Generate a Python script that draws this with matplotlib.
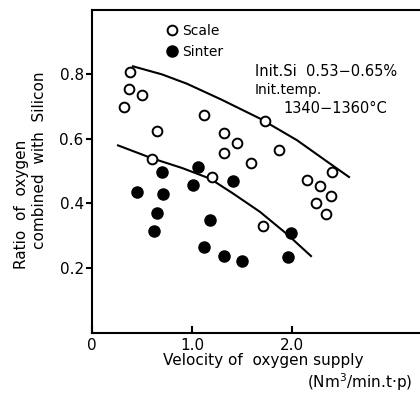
import matplotlib
matplotlib.use('Agg')
import matplotlib.pyplot as plt
from matplotlib.lines import Line2D

# Scale (open circles)
scale_x = [0.38, 0.37, 0.50, 0.32, 1.12, 0.65, 1.32, 1.45, 1.32, 1.59, 0.60, 1.20,
           1.73, 1.87, 2.40, 2.15, 2.28, 2.39, 2.24, 2.34, 1.71]
scale_y = [0.807, 0.755, 0.735, 0.700, 0.675, 0.624, 0.619, 0.588, 0.556, 0.524, 0.539, 0.481,
           0.654, 0.565, 0.498, 0.474, 0.454, 0.424, 0.400, 0.366, 0.331]

# Sinter (filled circles)
sinter_x = [0.45, 0.70, 0.71, 0.65, 0.62, 1.01, 1.06, 1.18, 1.12, 1.32, 1.41, 1.50, 1.96, 1.99]
sinter_y = [0.436, 0.498, 0.430, 0.369, 0.316, 0.458, 0.513, 0.349, 0.265, 0.237, 0.470, 0.223, 0.233, 0.310]

# hand-drawn trend curves
upper_x = [0.41, 0.70, 0.95, 1.30, 1.68, 2.05, 2.35, 2.57]
upper_y = [0.825, 0.80, 0.771, 0.721, 0.663, 0.596, 0.530, 0.482]
lower_x = [0.26, 0.60, 0.90, 1.18, 1.41, 1.68, 1.95, 2.19]
lower_y = [0.580, 0.540, 0.510, 0.477, 0.431, 0.374, 0.305, 0.237]

x_ticks = [0, 1, 2]
x_ticklabels = ['0', '1.0', '2.0']
y_ticks = [0.2, 0.4, 0.6, 0.8]
y_ticklabels = ['0.2', '0.4', '0.6', '0.8']

fig = plt.figure(figsize=(4.2, 3.94), dpi=100)
ax = fig.add_axes([0.219, 0.156, 0.781, 0.819])

ax.plot(upper_x, upper_y, color='black', lw=1.5)
ax.plot(lower_x, lower_y, color='black', lw=1.5)
ax.plot(scale_x, scale_y, 'o', mfc='white', mec='black', ms=7, mew=1.4, ls='none')
ax.plot(sinter_x, sinter_y, 'o', color='black', ms=8, ls='none')

ax.set_xlim(0, 3.28)
ax.set_ylim(0, 1.0)
ax.set_xticks(x_ticks)
ax.set_xticklabels(x_ticklabels)
ax.set_yticks(y_ticks)
ax.set_yticklabels(y_ticklabels)
ax.tick_params(axis='x', direction='in', length=5, width=1.5, labelsize=11, pad=4)
ax.tick_params(axis='y', direction='out', length=4, width=1.5, labelsize=11, pad=2)
ax.spines['right'].set_visible(False)
for s in ['left', 'bottom', 'top']:
    ax.spines[s].set_linewidth(1.5)

handles = [Line2D([], [], marker='o', ls='none', mfc='white', mec='black', ms=7, mew=1.4),
           Line2D([], [], marker='o', ls='none', color='black', ms=8)]
ax.legend(handles, ['Scale', 'Sinter'], loc='upper left', bbox_to_anchor=(0.185, 0.995),
          frameon=False, fontsize=10, handletextpad=0.2, labelspacing=0.5, handlelength=1.0)

ax.text(1.63, 0.81, 'Init.Si  0.53\u22120.65%', fontsize=10.5, va='center')
ax.text(1.63, 0.753, 'Init.temp.', fontsize=10, va='center')
ax.text(1.91, 0.694, '1340\u22121360\u00b0C', fontsize=10.5, va='center')

ax.text(0.521, -0.088, 'Velocity of  oxygen supply', transform=ax.transAxes,
        fontsize=11, ha='center', va='center')
ax.text(0.976, -0.153, '(Nm$^3$/min.t\u00b7p)', transform=ax.transAxes,
        fontsize=11, ha='right', va='center')
ax.text(-0.216, 0.396, 'Ratio  of  oxygen', transform=ax.transAxes,
        fontsize=11, ha='center', va='center', rotation=90)
ax.text(-0.159, 0.535, 'combined  with  Silicon', transform=ax.transAxes,
        fontsize=11, ha='center', va='center', rotation=90)

fig.savefig('out.png', dpi=100)
